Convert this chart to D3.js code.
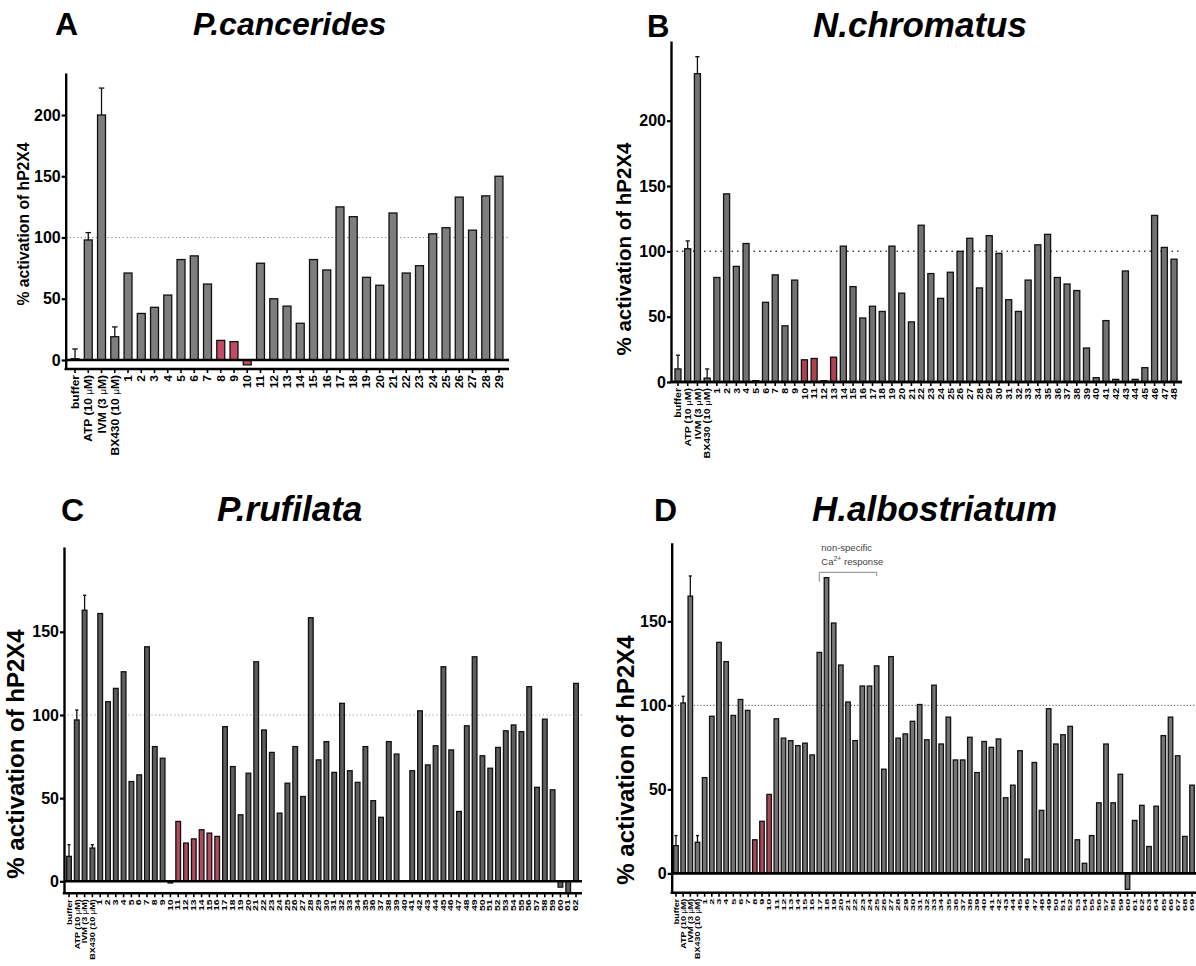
<!DOCTYPE html>
<html><head><meta charset="utf-8">
<script src="https://cdn.jsdelivr.net/npm/d3@7"></script>
<style>body{margin:0;background:#fff}svg{display:block}text{font-family:"Liberation Sans",Arial,sans-serif}</style>
</head><body>
<svg id="c" width="1196" height="966"></svg>
<script>
// ---------------- DATA ----------------
const controls = ["buffer", "ATP (10 μM)", "IVM (3 μM)", "BX430 (10 μM)"];
const numbersA = d3.range(1, 30).map(String);
const numbersB = d3.range(1, 49).map(String);
const numbersC = d3.range(1, 63).map(String);
const numbersD = d3.range(1, 70).map(String);

const titlesA = ["A", "P.cancerides"];
const titlesB = ["B", "N.chromatus"];
const titlesC = ["C", "P.rufilata"];
const titlesD = ["D", "H.albostriatum"];

const valuesA = [1, 98, 200, 19,
  71, 38, 43, 53, 82, 85, 62, 16, 15, -4, 79, 50, 44, 30, 82, 73.5, 125, 117, 67.5, 61, 120, 71, 77, 103, 108, 133, 106, 134, 150];
const errorsA = [8, 6, 22, 8];
const redA = ["8", "9", "10"];

const valuesB = [10, 102, 236, 3,
  80, 144, 88.5, 106, 1, 61, 82, 43, 78, 17, 18, 1, 19, 104, 73, 49, 58, 54, 104, 68, 46, 120, 83, 64, 84, 100,
  110, 72, 112, 98.5, 63, 54, 78, 105, 113, 80, 75, 70, 26, 3.3, 47, 2, 85, 2, 11, 127.5, 103, 94];
const errorsB = [10.5, 6, 13, 7];
const redB = ["10", "11", "13"];

const valuesC = [15, 97, 163, 20,
  161, 108, 116, 126, 60, 64, 141, 81, 74, -1, 36, 23, 25.5, 31, 29, 27, 93, 69, 40, 65, 132, 91, 77.5, 41, 59, 81,
  51, 158.5, 73, 84, 65.5, 107, 66.5, 59.5, 81, 48.5, 38.5, 84, 76.5, 0, 66.5, 102.5, 70, 81.5, 129, 79, 42, 93.5,
  135, 75.5, 68, 80.5, 90.5, 94, 90, 117, 56.5, 97.5, 55, -3.5, -7.2, 119];
const errorsC = [7, 6, 9, 2];
const redC = ["11", "12", "13", "14", "15", "16"];

const valuesD = [16.5, 101.4, 165, 18.5,
  57, 93.5, 137.5, 126, 94, 103.5, 97, 20, 31, 47, 92, 80.5, 79, 76, 77.5, 70.5, 131.5, 176, 149, 124, 102, 79,
  111.5, 111.5, 123.5, 62, 129, 80.5, 83, 90.5, 100.5, 79.5, 112, 77, 93, 67.5, 67.5, 81, 60, 78.5, 75, 80, 45,
  52.5, 73, 8.5, 66, 37.5, 98, 77, 82.5, 87.5, 20, 6, 22.5, 42, 77, 42, 59, -9.5, 31.5, 40.5, 16, 40, 82, 93, 70,
  22, 52.5];
const errorsD = [6, 4, 12, 4];
const redD = ["8", "9", "10"];

const yTicksA = [0, 50, 100, 150, 200];
const yTicksB = [0, 50, 100, 150, 200];
const yTicksC = [0, 50, 100, 150];
const yTicksD = [0, 50, 100, 150];
const yTitle = "% activation of hP2X4";
const noteLines = ["non-specific", "Ca", "2+", " response"];

// ---------------- LAYOUT ----------------
const svg = d3.select("#c");

const panels = [
  {cats: controls.concat(numbersA), vals: valuesA, errs: errorsA, red: redA, ticks: yTicksA, titles: titlesA,
   axisX: 65.7, yDom: [-7.35, 234.3], yRng: [369, 73], xAxisY: 369, band: [68.4, 505.6], pad: 0.4, lineEnd: 509,
   fill: "#7e7e7e", redFill: "#c24c63", lblFs: 12, numFs: 12, numSy: 0.92, ctlSy: 0.92,
   yTitleX: 23, yTitleY: 224, yTitleFs: 15.7, letter: [55, 35, 32], name: [193, 35, 32],
   dot: {c: "#888", w: 1.2, d: "1.2,2.6"}},
  {cats: controls.concat(numbersB), vals: valuesB, errs: errorsB, red: redB, ticks: yTicksB, titles: titlesB,
   axisX: 671, yDom: [0, 261], yRng: [382, 41], xAxisY: 382, band: [673.1, 1178.9], pad: 0.38, lineEnd: 1182,
   fill: "#727272", redFill: "#ad4253", lblFs: 10.5, numFs: 10.5, numSy: 0.85, ctlSy: 0.85,
   yTitleX: 624, yTitleY: 249, yTitleFs: 20.5, letter: [647, 37, 31], name: [813, 37, 35],
   dot: {c: "#444", w: 1.5, d: "1.5,4"}},
  {cats: controls.concat(numbersC), vals: valuesC, errs: errorsC, red: redC, ticks: yTicksC, titles: titlesC,
   axisX: 64, yDom: [-7.2, 201], yRng: [893.3, 547], xAxisY: 893.3, band: [65.1, 579.9], pad: 0.4, lineEnd: 582,
   fill: "#5e5e5e", redFill: "#b24a5e", lblFs: 9, numFs: 10.5, numSy: 0.6, ctlSy: 0.85,
   yTitleX: 16, yTitleY: 754, yTitleFs: 24, letter: [61, 521, 32], name: [217, 521, 35],
   dot: {c: "#999", w: 1.2, d: "1.2,2.6"}},
  {cats: controls.concat(numbersD), vals: valuesD, errs: errorsD, red: redD, ticks: yTicksD, titles: titlesD,
   axisX: 671.7, yDom: [-11.5, 196.8], yRng: [892.7, 542.7], xAxisY: 892.7, band: [672.4, 1195.6], pad: 0.37, lineEnd: 1196,
   fill: "#747474", redFill: "#aa4657", lblFs: 9, numFs: 11, numSy: 0.55, ctlSy: 0.85,
   yTitleX: 626, yTitleY: 760, yTitleFs: 24, letter: [654, 521, 32], name: [812, 521, 35],
   dot: {c: "#333", w: 1, d: "1,2.2"}}
];

function drawPanel(p) {
  const g = svg.append("g");
  const x = d3.scaleBand().domain(p.cats).range(p.band).paddingInner(p.pad).paddingOuter(p.pad / 2);
  const y = d3.scaleLinear().domain(p.yDom).range(p.yRng);
  const data = p.cats.map((c, i) => ({c, v: p.vals[i], e: i < p.errs.length ? p.errs[i] : null}));

  // dotted 100 line
  g.append("line").attr("x1", p.axisX).attr("x2", p.lineEnd).attr("y1", y(100)).attr("y2", y(100))
    .attr("stroke", p.dot.c).attr("stroke-width", p.dot.w).attr("stroke-dasharray", p.dot.d);

  // bars
  g.selectAll("rect.bar").data(data).join("rect").attr("class", "bar")
    .attr("x", d => x(d.c)).attr("width", x.bandwidth())
    .attr("y", d => Math.min(y(d.v), y(0))).attr("height", d => Math.abs(y(d.v) - y(0)))
    .attr("fill", d => p.red.includes(d.c) && !controls.includes(d.c) ? p.redFill : p.fill)
    .attr("stroke", "#111").attr("stroke-width", 1.3);

  // error bars
  const eb = data.filter(d => d.e !== null);
  g.selectAll("line.eb").data(eb).join("line").attr("class", "eb")
    .attr("x1", d => x(d.c) + x.bandwidth() / 2).attr("x2", d => x(d.c) + x.bandwidth() / 2)
    .attr("y1", d => y(d.v)).attr("y2", d => y(d.v + d.e)).attr("stroke", "#111").attr("stroke-width", 1.3);
  g.selectAll("line.cap").data(eb).join("line").attr("class", "cap")
    .attr("x1", d => x(d.c) + x.bandwidth() * 0.15).attr("x2", d => x(d.c) + x.bandwidth() * 0.85)
    .attr("y1", d => y(d.v + d.e)).attr("y2", d => y(d.v + d.e)).attr("stroke", "#111").attr("stroke-width", 1.3);

  // zero line
  g.append("line").attr("x1", p.axisX).attr("x2", p.lineEnd).attr("y1", y(0)).attr("y2", y(0))
    .attr("stroke", "#000").attr("stroke-width", 2.6);

  // y axis
  const ya = g.append("g").attr("transform", `translate(${p.axisX},0)`)
    .call(d3.axisLeft(y).tickValues(p.ticks).tickSize(4).tickPadding(1).tickSizeOuter(0));
  ya.select(".domain").attr("stroke", "#000").attr("stroke-width", 2.4);
  ya.selectAll(".tick line").attr("stroke", "#000").attr("stroke-width", 2.2);
  ya.selectAll(".tick text").attr("font-size", 16).attr("font-weight", "bold").attr("fill", "#000")
    .attr("font-family", '"Liberation Sans",Arial,sans-serif');

  // x axis
  const xa = g.append("g").attr("transform", `translate(0,${p.xAxisY})`)
    .call(d3.axisBottom(x).tickSize(4).tickSizeOuter(0).tickFormat(""));
  xa.select(".domain").remove();
  xa.selectAll(".tick line").attr("stroke", "#000").attr("stroke-width", 1.6);
  g.append("line").attr("x1", p.axisX - 1.2).attr("x2", p.lineEnd).attr("y1", p.xAxisY).attr("y2", p.xAxisY)
    .attr("stroke", "#000").attr("stroke-width", 2.4);

  // x labels
  const lab = g.append("g");
  data.forEach(d => {
    const isCtl = controls.includes(d.c);
    const fs = isCtl ? p.lblFs : p.numFs;
    const sy = isCtl ? p.ctlSy : p.numSy;
    const t = lab.append("text")
      .attr("transform", `translate(${x(d.c) + x.bandwidth() / 2},${p.xAxisY + 6}) rotate(-90) scale(1,${sy})`)
      .attr("text-anchor", "end").attr("dy", "0.36em").attr("font-size", fs).attr("font-weight", "bold").attr("fill", "#000");
    const parts = d.c.split("μ");
    if (parts.length > 1) {
      t.append("tspan").text(parts[0]);
      t.append("tspan").attr("font-weight", "normal").attr("font-size", fs * 0.85).text("μ");
      t.append("tspan").text(parts[1]);
    } else t.text(d.c);
  });

  // y title
  g.append("text").attr("transform", `translate(${p.yTitleX},${p.yTitleY}) rotate(-90)`)
    .attr("text-anchor", "middle").attr("dy", "0.35em").attr("font-size", p.yTitleFs).attr("font-weight", "bold")
    .text(yTitle);

  // titles
  g.append("text").attr("x", p.letter[0]).attr("y", p.letter[1]).attr("font-size", p.letter[2])
    .attr("font-weight", "bold").text(p.titles[0]);
  g.append("text").attr("x", p.name[0]).attr("y", p.name[1]).attr("font-size", p.name[2])
    .attr("font-weight", "bold").attr("font-style", "italic").text(p.titles[1]);

  return {x, y};
}

const scales = panels.map(drawPanel);

// annotation on panel D
(function () {
  const {x} = scales[3];
  const x0 = x("17") + x.bandwidth() / 2, x1 = x("25") + x.bandwidth() / 2;
  const g = svg.append("g");
  g.append("text").attr("x", x0 + 2).attr("y", 550.5).attr("font-size", 9.5).attr("fill", "#444").text(noteLines[0]);
  const t = g.append("text").attr("x", x0 + 2).attr("y", 565).attr("font-size", 9.5).attr("fill", "#444");
  t.append("tspan").text(noteLines[1]);
  t.append("tspan").attr("dy", -4).attr("font-size", 7).text(noteLines[2]);
  t.append("tspan").attr("dy", 4).text(noteLines[3]);
  g.append("path").attr("d", `M${x0},581.7V572.3H${x1}V576`).attr("fill", "none").attr("stroke", "#888").attr("stroke-width", 1);
})();
</script>
</body></html>
